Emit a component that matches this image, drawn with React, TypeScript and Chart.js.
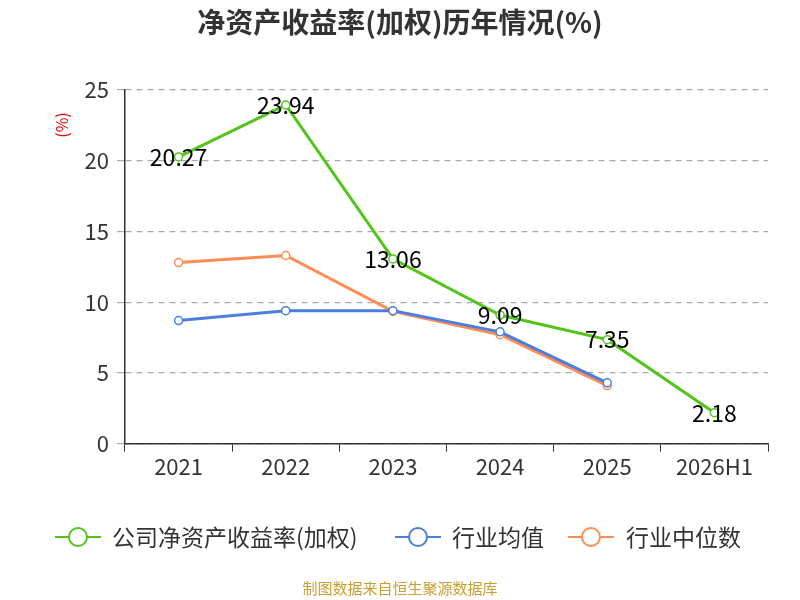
import React, { useEffect, useRef } from "react";
import { Chart, registerables } from "chart.js";
Chart.register(...registerables);

const categories = ["2021", "2022", "2023", "2024", "2025", "2026H1"];
const companyRoe = [20.27, 23.94, 13.06, 9.09, 7.35, 2.18];
const industryMean = [8.7, 9.4, 9.4, 7.9, 4.3, null];
const industryMedian = [12.8, 13.3, 9.35, 7.7, 4.1, null];
const seriesNames = ["公司净资产收益率(加权)", "行业均值", "行业中位数"];
const colors = ["#52c41a", "#4a7fe0", "#ff8c55"];
const FONT = "'Noto Sans CJK SC', 'Noto Sans', sans-serif";

const extras = {
  id: "extras",
  afterDraw(chart: any) {
    const ctx = chart.ctx;
    ctx.save();
    ctx.fillStyle = "#333";
    ctx.font = `bold 28px ${FONT}`;
    ctx.textAlign = "center";
    ctx.textBaseline = "middle";
    ctx.fillText("净资产收益率(加权)历年情况(%)", 400, 22);
    ctx.save();
    ctx.translate(62, 125);
    ctx.rotate(-Math.PI / 2);
    ctx.fillStyle = "#e00";
    ctx.font = `16px ${FONT}`;
    ctx.fillText("(%)", 0, 0);
    ctx.restore();
    const meta = chart.getDatasetMeta(0);
    ctx.fillStyle = "#000";
    ctx.font = `23px ${FONT}`;
    meta.data.forEach((p: any, i: number) => {
      ctx.fillText(companyRoe[i].toFixed(2), p.x, p.y);
    });
    const items = [
      { x: 55, tx: 112 },
      { x: 395, tx: 452 },
      { x: 568, tx: 626 },
    ];
    const ly = 537;
    ctx.textAlign = "left";
    ctx.font = `23px ${FONT}`;
    items.forEach((it, i) => {
      ctx.strokeStyle = colors[i];
      ctx.lineWidth = 2;
      ctx.beginPath();
      ctx.moveTo(it.x, ly);
      ctx.lineTo(it.x + 46, ly);
      ctx.stroke();
      ctx.beginPath();
      ctx.arc(it.x + 23, ly, 9, 0, Math.PI * 2);
      ctx.fillStyle = "#fff";
      ctx.fill();
      ctx.stroke();
      ctx.fillStyle = "#333";
      ctx.fillText(seriesNames[i], it.tx, ly);
    });
    ctx.textAlign = "center";
    ctx.fillStyle = "#c8a032";
    ctx.font = `15px ${FONT}`;
    ctx.fillText("制图数据来自恒生聚源数据库", 400, 588);
    ctx.restore();
  },
};

export default function App() {
  const ref = useRef<HTMLCanvasElement>(null);
  useEffect(() => {
    const mk = (label: string, data: any[], c: string, w: number) => ({
      label,
      data,
      borderColor: c,
      backgroundColor: "#fff",
      borderWidth: w,
      pointRadius: 4,
      pointBorderWidth: 1.5,
      pointBackgroundColor: "#fff",
      tension: 0,
    });
    const chart = new Chart(ref.current!, {
      type: "line",
      data: {
        labels: categories,
        datasets: [
          mk(seriesNames[0], companyRoe, colors[0], 3),
          mk(seriesNames[1], industryMean, colors[1], 3),
          mk(seriesNames[2], industryMedian, colors[2], 3),
        ],
      },
      options: {
        animation: false,
        responsive: false,
        layout: { padding: { top: 90, right: 32, bottom: 118, left: 0 } },
        plugins: { legend: { display: false }, title: { display: false }, tooltip: { enabled: false } },
        scales: {
          x: {
            offset: true,
            grid: { display: true, drawOnChartArea: false, tickLength: 8, color: "#333", offset: true },
            border: { color: "#333", width: 1.5 },
            ticks: { color: "#333", font: { size: 22, family: FONT }, padding: 2 },
          },
          y: {
            min: 0,
            max: 25,
            afterFit: (s: any) => { s.width = 125; },
            grid: { color: "#aaa", tickLength: 8, lineWidth: 1.2 },
            border: { color: "#333", width: 1.5, dash: [6, 5] },
            ticks: { stepSize: 5, color: "#333", font: { size: 22, family: FONT }, padding: 8 },
          },
        },
      },
      plugins: [extras],
    });
    return () => chart.destroy();
  }, []);
  return (
    <div style={{ position: "fixed", left: 0, top: 0, width: 800, height: 600, background: "#fff" }}>
      <canvas ref={ref} width={800} height={600} />
    </div>
  );
}
